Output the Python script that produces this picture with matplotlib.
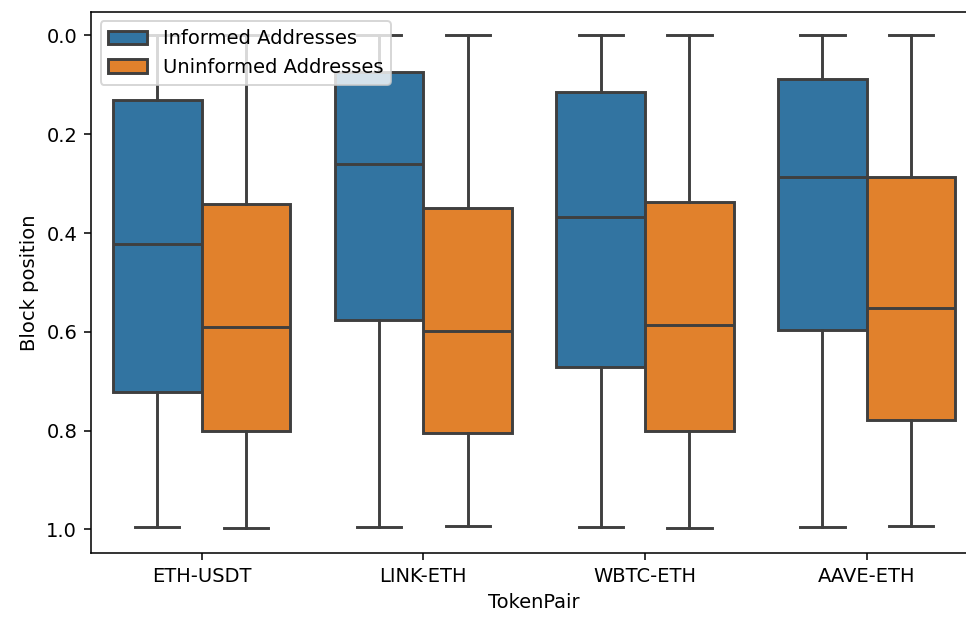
import numpy as np
import matplotlib
matplotlib.use('Agg')
import matplotlib.pyplot as plt
from matplotlib.patches import Patch

pairs = ['ETH-USDT', 'LINK-ETH', 'WBTC-ETH', 'AAVE-ETH']
groups = ['Informed Addresses', 'Uninformed Addresses']

# box stats: (whislo, q1, med, q3, whishi)
inf_lo = [0.0, 0.0, 0.0, 0.0]
inf_q1 = [0.131, 0.075, 0.115, 0.089]
inf_med = [0.422, 0.261, 0.368, 0.287]
inf_q3 = [0.721, 0.576, 0.671, 0.596]
inf_hi = [0.996, 0.996, 0.996, 0.996]

uni_lo = [0.0, 0.0, 0.0, 0.0]
uni_q1 = [0.341, 0.349, 0.337, 0.287]
uni_med = [0.590, 0.598, 0.586, 0.552]
uni_q3 = [0.800, 0.804, 0.800, 0.778]
uni_hi = [0.998, 0.994, 0.998, 0.994]

colors = ['#3274a1', '#e1812c']
gray = '#3f3f3f'

DPI = 140
fig, ax = plt.subplots(figsize=(966 / DPI, 618 / DPI), dpi=DPI)
# the original is cropped on the right, so the axes run past the edge
fig.subplots_adjust(left=0.094, right=1.012, top=0.981, bottom=0.105)

series = [(inf_lo, inf_q1, inf_med, inf_q3, inf_hi),
          (uni_lo, uni_q1, uni_med, uni_q3, uni_hi)]
offsets = [-0.2, 0.2]
for g, (lo, q1, med, q3, hi) in enumerate(series):
    stats = []
    for i in range(len(pairs)):
        stats.append(dict(whislo=lo[i], q1=q1[i], med=med[i], q3=q3[i],
                          whishi=hi[i], fliers=[]))
    pos = np.arange(len(pairs)) + offsets[g]
    ax.bxp(stats, positions=pos, widths=0.4, patch_artist=True,
           showfliers=False, manage_ticks=False,
           boxprops=dict(facecolor=colors[g], edgecolor=gray, linewidth=1.5),
           medianprops=dict(color=gray, linewidth=1.5),
           whiskerprops=dict(color=gray, linewidth=1.5),
           capprops=dict(color=gray, linewidth=1.5))

ax.set_xticks(np.arange(len(pairs)))
ax.set_xticklabels(pairs)
ax.set_xlim(-0.5, len(pairs) - 0.5)
ax.set_ylim(1.048, -0.048)
ax.set_yticks([0.0, 0.2, 0.4, 0.6, 0.8, 1.0])
ax.set_xlabel('TokenPair')
ax.set_ylabel('Block position')

handles = [Patch(facecolor=colors[g], edgecolor=gray, linewidth=1.5, label=groups[g])
           for g in range(2)]
ax.legend(handles=handles, loc='upper left')

fig.savefig('out.png', dpi=DPI)
